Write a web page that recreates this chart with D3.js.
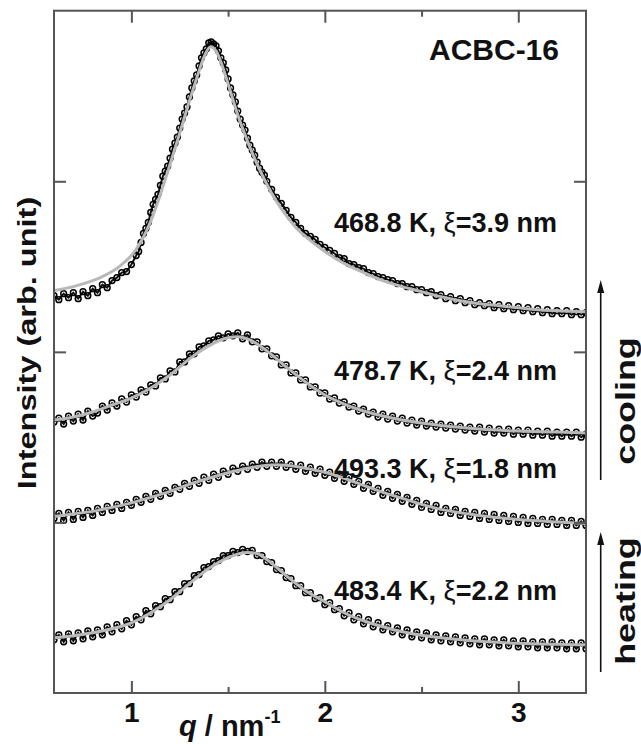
<!DOCTYPE html>
<html>
<head>
<meta charset="utf-8">
<script src="https://cdn.jsdelivr.net/npm/d3@7"></script>
<style>
  body { margin: 0; background: #fff; }
  svg { display: block; }
  text { font-family: "Liberation Sans", Arial, Helvetica, sans-serif; font-weight: bold; fill: #111; }
</style>
</head>
<body>
<svg id="chart"></svg>
<script>
// measured q grid (nm^-1)
var qGrid = [0.6,0.625,0.65,0.675,0.7,0.725,0.75,0.775,0.8,0.825,0.85,0.875,0.9,0.925,0.95,0.975,
  1,1.025,1.05,1.075,1.1,1.125,1.15,1.175,1.2,1.225,1.25,1.275,1.3,1.325,1.35,1.375,1.4,1.425,1.45,1.475,
  1.5,1.525,1.55,1.575,1.6,1.625,1.65,1.675,1.7,1.725,1.75,1.775,1.8,1.825,1.85,1.875,1.9,1.925,1.95,1.975,
  2,2.025,2.05,2.075,2.1,2.125,2.15,2.175,2.2,2.225,2.25,2.275,2.3,2.325,2.35,2.375,2.4,2.425,2.45,2.475,
  2.5,2.525,2.55,2.575,2.6,2.625,2.65,2.675,2.7,2.725,2.75,2.775,2.8,2.825,2.85,2.875,2.9,2.925,2.95,2.975,
  3,3.025,3.05,3.075,3.1,3.125,3.15,3.175,3.2,3.225,3.25,3.275,3.3,3.325,3.35];

// intensities (arb. unit, curves stacked)
var int468 = [396,392,398,394,399,393,400,396,403,399,407,404,411,414,419,420,
  427,436,449,463,479,492,506,520,533,548,563,578,594,610,625,638,648,647,640,628,
  612,596,580,566,553,541,529,519,510,502,494,488,481,474,469,463,458,455,452,447,
  444,441,438,434,433,428,427,424,423,419,418,415,414,412,411,408,408,405,405,402,
  402,399,400,396,397,393,395,391,393,389,391,387,389,386,388,384,387,383,386,382,
  385,381,384,380,383,379,382,378,381,378,381,377,380,377,379];
var qPeak468 = [1.0375,1.0625,1.0875,1.1125,1.1375,1.1625,1.1875,1.2125,1.2375,1.2625,1.2875,1.3125,1.3375,1.3625,
  1.3875,1.4125,1.4375,1.4625,1.4875,1.5125,1.5375,1.5625,1.5875,1.6125,1.6375,1.6625,1.6875];
var intPeak468 = [440,458,469,487,497,515,525,542,554,572,584,603,616,633,642,649,645,633,621,603,589,572,561,546,536,523,516];

var int478 = [270,274,268,276,271,278,272,281,276,279,286,282,289,286,293,290,
  297,295,302,300,307,306,314,313,321,320,330,330,338,338,345,346,351,352,356,354,
  358,356,359,353,357,350,350,343,343,336,335,327,327,319,319,312,312,305,305,299,
  299,293,294,289,290,285,286,281,283,278,280,275,278,273,276,271,274,269,272,267,
  271,266,269,265,268,264,267,263,266,262,265,261,265,260,264,259,263,259,263,258,
  262,258,262,257,261,257,261,256,260,256,260,256,260,255,258];

var int493 = [174,179,172,180,173,181,175,182,177,184,180,186,182,188,184,190,
  187,193,190,196,193,199,196,202,199,205,203,209,206,212,209,215,212,218,215,221,
  218,224,221,226,223,228,225,230,226,230,226,230,225,228,223,227,221,225,219,223,
  217,220,214,218,211,215,208,211,204,208,201,204,197,201,194,198,191,195,188,192,
  185,189,183,187,180,184,179,183,177,181,176,180,174,179,173,178,172,177,171,176,
  170,175,169,174,169,173,168,173,168,172,167,172,167,171,167];

var int483 = [53,58,51,59,52,60,54,62,56,63,58,66,61,68,64,72,
  68,76,73,82,79,87,86,94,93,101,101,109,109,117,118,125,126,131,132,137,
  137,141,140,143,141,142,137,137,131,130,123,122,115,114,107,107,100,100,94,95,
  88,90,83,84,77,80,73,76,69,73,66,70,63,67,61,65,58,63,56,61,
  55,60,53,58,52,57,51,56,50,55,49,54,48,54,48,53,47,53,47,52,
  46,52,46,51,45,51,45,51,45,50,44,50,44,50,44];

// fitted curves
var fit468Q = [0.6,0.7,0.8,0.85,0.9,0.95,1.0,1.05,1.1,1.15,1.2,1.25,1.3,1.35,1.38,1.41,1.44,1.47,1.5,1.55,1.6,1.65,
  1.7,1.75,1.8,1.85,1.9,2.0,2.1,2.2,2.3,2.4,2.5,2.6,2.7,2.8,2.9,3.0,3.1,3.2,3.35];
var fit468I = [401,405,411,415,420,427,436,450,470,497,527,558,590,620,636,644,639,625,607,576,550,527,
  507,490,476,464,455,440,428,419,411,405,400,395,391,388,386,384,382,381,380];
var fit478Q = [0.6,0.7,0.8,0.9,1.0,1.1,1.2,1.3,1.4,1.5,1.55,1.6,1.7,1.8,1.9,2.0,2.1,2.2,2.3,2.4,2.5,2.6,2.8,3.0,3.2,3.35];
var fit478I = [272,275,280,287,294,304,317,333,346,354,355,353,341,325,310,297,288,281,276,272,269,266.5,263,261,260,259];
var fit493Q = [0.6,0.7,0.8,0.9,1.0,1.1,1.2,1.3,1.4,1.5,1.6,1.7,1.75,1.8,1.9,2.0,2.1,2.2,2.3,2.4,2.5,2.6,2.8,3.0,3.2,3.35];
var fit493I = [176,178.5,181,185,189.5,195,201,208,214,219.5,224,227,227.5,227,224,220,214,207,200,194,188,183,177,173,170.5,169];
var fit483Q = [0.6,0.7,0.8,0.9,1.0,1.1,1.2,1.3,1.4,1.5,1.6,1.65,1.7,1.8,1.9,2.0,2.1,2.2,2.3,2.4,2.5,2.6,2.8,3.0,3.2,3.35];
var fit483I = [55,57,60,64,70,80,93,109,124,135,140,139,133,117,102,91,80,72,66,61,57.5,55,51.5,49.5,48.5,48];

var temps = ["468.8", "478.7", "493.3", "483.4"];
var xiValues = ["3.9", "2.4", "1.8", "2.2"];
var qMajorTicks = [1, 2, 3];
var qMinorTicks = [1.5, 2.5];
var intTicks = [170, 340, 510];

var width = 641;
var height = 744;
var plotLeft = 54, plotRight = 586, plotTop = 10.7, plotBottom = 693;
var labelBaseY = [232, 380, 478, 600];

var x = d3.scaleLinear().domain([0.6, 3.35]).range([plotLeft, plotRight]);
var y = d3.scaleLinear().domain([0, 680]).range([plotBottom, plotTop]);

var svg = d3.select("#chart")
  .attr("width", width)
  .attr("height", height);

svg.append("clipPath")
  .attr("id", "plotClip")
  .append("rect")
    .attr("x", plotLeft)
    .attr("y", plotTop)
    .attr("width", plotRight - plotLeft)
    .attr("height", plotBottom - plotTop);

function pairs(qs, vals) {
  return qs.map(function(q, i) { return { q: q, v: vals[i] }; });
}

var dataSets = [
  pairs(qGrid, int468).concat(pairs(qPeak468, intPeak468)).sort(function(a, b) { return a.q - b.q; }),
  pairs(qGrid, int478),
  pairs(qGrid, int493),
  pairs(qGrid, int483)
];
var fitSets = [
  pairs(fit468Q, fit468I),
  pairs(fit478Q, fit478I),
  pairs(fit493Q, fit493I),
  pairs(fit483Q, fit483I)
];

var plot = svg.append("g").attr("clip-path", "url(#plotClip)");

var dataLine = d3.line()
  .x(function(d) { return x(d.q); })
  .y(function(d) { return y(d.v); });

var line = d3.line()
  .x(function(d) { return x(d.q); })
  .y(function(d) { return y(d.v); })
  .curve(d3.curveMonotoneX);

dataSets.forEach(function(set) {
  // dense trace under the open circles
  plot.append("path")
    .datum(set)
    .attr("d", dataLine)
    .attr("fill", "none")
    .attr("stroke", "#111")
    .attr("stroke-width", 2);

  plot.append("g")
    .selectAll("circle")
    .data(set)
    .enter()
      .append("circle")
        .attr("cx", function(d) { return x(d.q); })
        .attr("cy", function(d) { return y(d.v); })
        .attr("r", 2.9)
        .attr("fill", "none")
        .attr("stroke", "#000")
        .attr("stroke-width", 1.5);
});

fitSets.forEach(function(set) {
  plot.append("path")
    .datum(set)
    .attr("d", line)
    .attr("fill", "none")
    .attr("stroke", "#b8b8b8")
    .attr("stroke-width", 3);
});

// frame and ticks
function styleAxis(g) {
  g.select(".domain").remove();
  g.selectAll("line").attr("stroke", "#555").attr("stroke-width", 2);
}

svg.append("g")
  .attr("transform", "translate(0," + plotBottom + ")")
  .call(d3.axisBottom(x).tickValues(qMajorTicks).tickSize(-12).tickPadding(9).tickFormat(d3.format("d")))
  .call(styleAxis)
  .attr("font-size", 28)
  .attr("font-family", null)
  .selectAll("text").attr("fill", "#111");

svg.append("g")
  .attr("transform", "translate(0," + plotBottom + ")")
  .call(d3.axisBottom(x).tickValues(qMinorTicks).tickSize(-6).tickFormat(""))
  .call(styleAxis);

svg.append("g")
  .attr("transform", "translate(0," + plotTop + ")")
  .call(d3.axisTop(x).tickValues(qMajorTicks).tickSize(-12).tickFormat(""))
  .call(styleAxis);

svg.append("g")
  .attr("transform", "translate(0," + plotTop + ")")
  .call(d3.axisTop(x).tickValues(qMinorTicks).tickSize(-6).tickFormat(""))
  .call(styleAxis);

svg.append("g")
  .attr("transform", "translate(" + plotLeft + ",0)")
  .call(d3.axisLeft(y).tickValues(intTicks).tickSize(-12).tickFormat(""))
  .call(styleAxis);

svg.append("g")
  .attr("transform", "translate(" + plotRight + ",0)")
  .call(d3.axisRight(y).tickValues(intTicks).tickSize(-12).tickFormat(""))
  .call(styleAxis);

svg.append("rect")
  .attr("x", plotLeft)
  .attr("y", plotTop)
  .attr("width", plotRight - plotLeft)
  .attr("height", plotBottom - plotTop)
  .attr("fill", "none")
  .attr("stroke", "#555")
  .attr("stroke-width", 2);

// labels
svg.append("text")
  .attr("x", 559)
  .attr("y", 60)
  .attr("text-anchor", "end")
  .attr("font-size", 30)
  .text("ACBC-16");

temps.forEach(function(t, i) {
  var lbl = svg.append("text")
    .attr("x", 557)
    .attr("y", labelBaseY[i])
    .attr("text-anchor", "end")
    .attr("font-size", 27);
  lbl.append("tspan").text(t + " K, ");
  lbl.append("tspan").attr("font-weight", "normal").text("ξ");
  lbl.append("tspan").text("=" + xiValues[i] + " nm");
});

var xTitle = svg.append("text")
  .attr("x", 179)
  .attr("y", 736)
  .attr("font-size", 29);
xTitle.append("tspan").attr("font-style", "italic").text("q");
xTitle.append("tspan").text(" / nm");
xTitle.append("tspan").attr("font-size", 18).attr("dy", -13).text("-1");

svg.append("text")
  .attr("transform", "translate(36,343) rotate(-90) scale(1.25,1)")
  .attr("text-anchor", "middle")
  .attr("font-size", 26)
  .text("Intensity (arb. unit)");

svg.append("text")
  .attr("transform", "translate(635,401) rotate(-90) scale(1.33,1)")
  .attr("text-anchor", "middle")
  .attr("font-size", 27)
  .text("cooling");

svg.append("text")
  .attr("transform", "translate(635,601) rotate(-90) scale(1.33,1)")
  .attr("text-anchor", "middle")
  .attr("font-size", 27)
  .text("heating");

function arrow(xPos, yFrom, yTip) {
  svg.append("line")
    .attr("x1", xPos).attr("x2", xPos)
    .attr("y1", yFrom).attr("y2", yTip + 10)
    .attr("stroke", "#111")
    .attr("stroke-width", 1.6);
  svg.append("path")
    .attr("d", "M" + xPos + "," + yTip + "L" + (xPos - 3.5) + "," + (yTip + 13) + "L" + (xPos + 3.5) + "," + (yTip + 13) + "Z")
    .attr("fill", "#111");
}
arrow(600.7, 480, 280);
arrow(600.7, 672, 532);
</script>
</body>
</html>
